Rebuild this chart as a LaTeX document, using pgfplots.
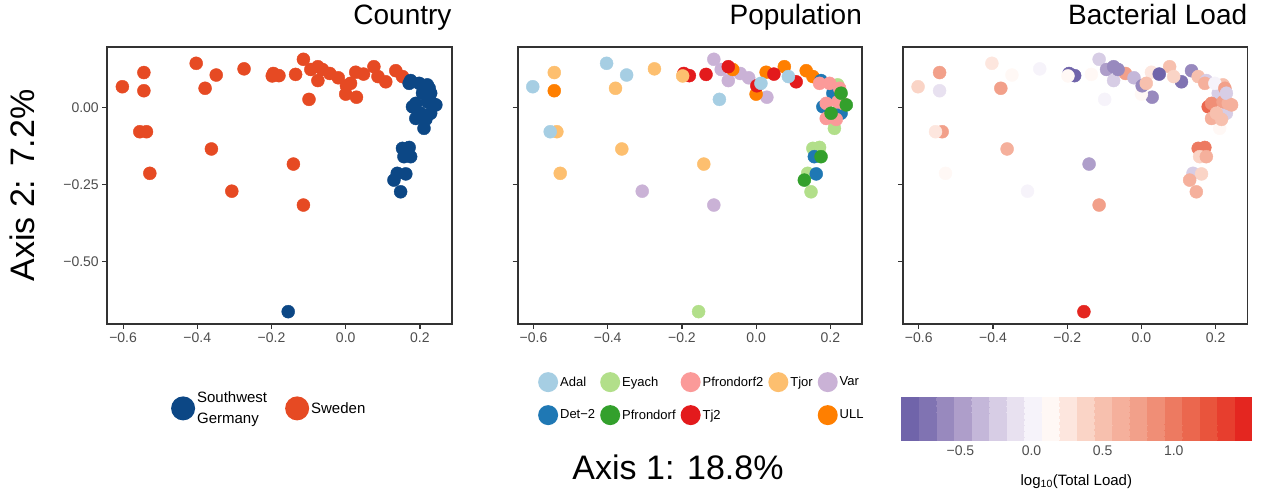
\documentclass[border=0pt]{standalone}
\usepackage{fontspec}
\setmainfont{Liberation Sans}
\usepackage{pgfplots}
\usepackage{pgfplotstable}
\pgfplotsset{compat=1.18}

\definecolor{gray30}{RGB}{77,77,77}
\definecolor{frame}{RGB}{51,51,51}
\definecolor{swBlue}{RGB}{12,71,133}
\definecolor{swOr}{RGB}{230,74,35}
\definecolor{cAdal}{HTML}{A6CEE3}
\definecolor{cDet}{HTML}{1F78B4}
\definecolor{cEyach}{HTML}{B2DF8A}
\definecolor{cPf}{HTML}{33A02C}
\definecolor{cPfz}{HTML}{FB9A99}
\definecolor{cTj}{HTML}{E31A1C}
\definecolor{cTjor}{HTML}{FDBF6F}
\definecolor{cULL}{HTML}{FF7F00}
\definecolor{cVar}{HTML}{CAB2D6}

\pgfplotstableread{
x y load
-0.602 0.068 0.40
-0.555 -0.078 0.30
-0.403 0.144 0.25
-0.349 0.106 0.10
-0.099 0.027 0.05
0.013 0.079 0.50
0.087 0.101 0.40
}\tAdal
\pgfplotstableread{
x y load
-0.544 0.114 0.70
-0.537 -0.078 0.80
-0.528 -0.213 0.15
-0.379 0.063 0.70
-0.362 -0.134 0.65
-0.274 0.126 -0.05
-0.141 -0.183 -0.50
-0.198 0.103 0.10
}\tTjor
\pgfplotstableread{
x y load
-0.195 0.111 -0.80
-0.180 0.104 -0.80
-0.135 0.108 0.10
-0.075 0.133 -0.55
0.002 0.071 -0.60
0.048 0.109 -0.80
0.108 0.084 -0.75
}\tTj
\pgfplotstableread{
x y load
-0.544 0.055 -0.10
-0.063 0.124 -0.55
0.000 0.044 0.10
0.027 0.115 0.30
0.076 0.133 0.45
0.135 0.120 -0.55
0.153 0.101 0.50
}\tULL
\pgfplotstableread{
x y load
-0.307 -0.271 -0.05
-0.114 -0.316 0.70
-0.114 0.157 -0.30
-0.094 0.124 -0.50
-0.075 0.088 -0.30
-0.043 0.111 0.70
-0.020 0.097 -0.35
0.029 0.034 -0.55
}\tVar
\pgfplotstableread{
x y load
0.175 0.088 -0.30
0.207 0.047 -0.25
0.180 0.003 1.10
0.229 -0.018 -0.20
0.157 -0.159 0.40
0.162 -0.215 0.35
}\tDet
\pgfplotstableread{
x y load
0.229 0.047 -0.20
0.243 0.009 0.65
0.202 -0.018 0.55
0.175 -0.159 0.60
0.130 -0.235 0.60
}\tPf
\pgfplotstableread{
x y load
0.171 0.079 0.60
0.198 0.079 0.00
0.225 0.063 0.70
0.189 0.014 0.90
0.220 0.019 0.70
0.234 0.014 0.65
0.189 -0.035 0.60
0.216 -0.038 0.50
}\tPfz
\pgfplotstableread{
x y load
0.220 0.074 0.50
0.211 -0.067 0.15
0.153 -0.132 1.00
0.171 -0.129 1.00
0.139 -0.213 -0.25
0.148 -0.273 0.60
-0.155 -0.662 1.50
}\tEyach

\pgfplotsset{
  colormap={loadmap}{
    rgb255=(112,100,170) rgb255=(128,115,178) rgb255=(152,137,190) rgb255=(174,158,202)
    rgb255=(196,183,217) rgb255=(215,205,229) rgb255=(232,225,240) rgb255=(246,243,250)
    rgb255=(255,248,245) rgb255=(253,230,222) rgb255=(250,212,198) rgb255=(247,192,174)
    rgb255=(245,176,156) rgb255=(242,160,138) rgb255=(240,142,118) rgb255=(237,122,97)
    rgb255=(235,103,78) rgb255=(233,84,60) rgb255=(231,62,46) rgb255=(228,38,32)},
  panel/.style={
    scale only axis, width=344.4pt, height=276.7pt,
    xmin=-0.6426, xmax=0.2857, ymin=-0.702, ymax=0.196,
    axis line style={frame, line width=1.8pt},
    tick align=outside, tick pos=left, major tick length=5pt,
    tick style={frame, line width=1.2pt},
    xtick={-0.6,-0.4,-0.2,0,0.2},
    xticklabels={−0.6,−0.4,−0.2,0.0,0.2},
    ytick={-0.5,-0.25,0},
    yticklabels={},
    tick label style={font=\fontsize{14}{16}\selectfont, text=gray30},
    title style={at={(1,1)}, anchor=base east, yshift=17pt,
      font=\fontsize{28}{32}\selectfont, inner sep=0pt},
  },
  dot/.style={only marks, mark=*, mark size=6.5pt, color=#1, forget plot},
  ldot/.style={only marks, mark=*, mark size=6.5pt, scatter, scatter src=explicit,
    scatter/use mapped color={draw=mapped color, fill=mapped color}, forget plot},
}

\begin{document}
\begin{tikzpicture}
\useasboundingbox (0pt,0pt) rectangle (1261pt,494pt);

% ---------- Country ----------
\begin{axis}[panel, at={(107.3pt,170pt)}, anchor=south west,
  title={Country},
  yticklabels={−0.50,−0.25,0.00},
  legend columns=2, legend cell align=left,
  legend style={at={(0.176,-0.305)}, anchor=west, draw=none, fill=none,
    font=\fontsize{15}{21}\selectfont, cells={align=left},
    /tikz/every even column/.append style={column sep=16pt}},
  legend image code/.code={\fill[#1] (0pt,0pt) circle (12pt);},
]
\addplot[dot=swOr] table[x=x,y=y] {\tVar};
\addplot[dot=swOr] table[x=x,y=y] {\tULL};
\addplot[dot=swOr] table[x=x,y=y] {\tTj};
\addplot[dot=swOr] table[x=x,y=y] {\tTjor};
\addplot[dot=swOr] table[x=x,y=y] {\tAdal};
\addplot[dot=swBlue] table[x=x,y=y] {\tDet};
\addplot[dot=swBlue] table[x=x,y=y] {\tPfz};
\addplot[dot=swBlue] table[x=x,y=y] {\tPf};
\addplot[dot=swBlue] table[x=x,y=y] {\tEyach};
\addlegendimage{fill=swBlue, draw=none}
\addlegendentry{Southwest\\Germany}
\addlegendimage{fill=swOr, draw=none}
\addlegendentry{Sweden}
\end{axis}

% ---------- Population ----------
\begin{axis}[panel, at={(517.7pt,170pt)}, anchor=south west,
  title={Population},
  legend columns=5, legend cell align=left,
  legend style={at={(0.05,-0.166)}, anchor=north west, draw=none, fill=none,
    font=\fontsize{13}{15}\selectfont, row sep=13pt,
    /tikz/every even column/.append style={column sep=3pt}},
  legend image code/.code={\fill[#1] (0pt,0pt) circle (10pt);},
]
\addplot[dot=cVar] table[x=x,y=y] {\tVar};
\addplot[dot=cULL] table[x=x,y=y] {\tULL};
\addplot[dot=cTj] table[x=x,y=y] {\tTj};
\addplot[dot=cTjor] table[x=x,y=y] {\tTjor};
\addplot[dot=cAdal] table[x=x,y=y] {\tAdal};
\addplot[dot=cEyach] table[x=x,y=y] {\tEyach};
\addplot[dot=cDet] table[x=x,y=y] {\tDet};
\addplot[dot=cPfz] table[x=x,y=y] {\tPfz};
\addplot[dot=cPf] table[x=x,y=y] {\tPf};
\addlegendimage{fill=cAdal, draw=none}\addlegendentry{Adal}
\addlegendimage{fill=cEyach, draw=none}\addlegendentry{Eyach}
\addlegendimage{fill=cPfz, draw=none}\addlegendentry{Pfrondorf2}
\addlegendimage{fill=cTjor, draw=none}\addlegendentry{Tjor}
\addlegendimage{fill=cVar, draw=none}\addlegendentry{Var}
\addlegendimage{fill=cDet, draw=none}\addlegendentry{Det−2}
\addlegendimage{fill=cPf, draw=none}\addlegendentry{Pfrondorf}
\addlegendimage{fill=cTj, draw=none}\addlegendentry{Tj2}
\addlegendimage{empty legend}\addlegendentry{}
\addlegendimage{fill=cULL, draw=none}\addlegendentry{ULL}
\end{axis}

% ---------- Bacterial Load ----------
\begin{axis}[panel, at={(903pt,170pt)}, anchor=south west,
  title={Bacterial Load},
  colormap name=loadmap, colormap access=piecewise constant,
  point meta min=-0.92, point meta max=1.55,
  colorbar horizontal,
  colorbar style={at={(-0.0067,-0.264)}, anchor=north west,
    scale only axis, width=351.3pt, height=43pt,
    axis line style={draw=none}, major tick length=0pt,
    xtick={-0.5,0,0.5,1}, xticklabels={−0.5,0.0,0.5,1.0},
    xticklabel pos=lower,
    tick label style={font=\fontsize{14}{16}\selectfont, text=gray30, yshift=-2pt},
    xlabel={log\textsubscript{10}(Total Load)},
    xlabel style={font=\fontsize{15}{17}\selectfont, text=black, yshift=-12pt}},
]
\addplot[ldot] table[x=x,y=y,meta=load] {\tVar};
\addplot[ldot] table[x=x,y=y,meta=load] {\tULL};
\addplot[ldot] table[x=x,y=y,meta=load] {\tTj};
\addplot[ldot] table[x=x,y=y,meta=load] {\tTjor};
\addplot[ldot] table[x=x,y=y,meta=load] {\tAdal};
\addplot[ldot] table[x=x,y=y,meta=load] {\tEyach};
\addplot[ldot] table[x=x,y=y,meta=load] {\tDet};
\addplot[ldot] table[x=x,y=y,meta=load] {\tPfz};
\addplot[ldot] table[x=x,y=y,meta=load] {\tPf};
\end{axis}

\node[rotate=90, font=\fontsize{34}{38}\selectfont] at (22pt,308.5pt) {Axis 2: 7.2\%};
\node[font=\fontsize{34}{38}\selectfont] at (678pt,27pt) {Axis 1: 18.8\%};
\end{tikzpicture}
\end{document}
